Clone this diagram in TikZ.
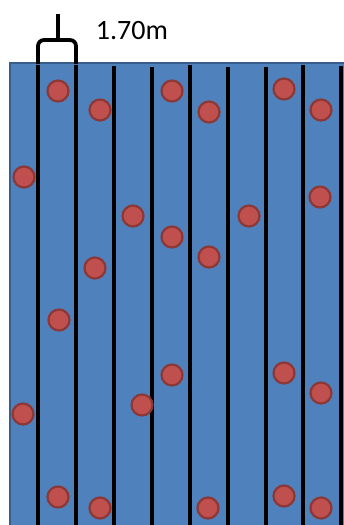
\documentclass[tikz,border=0pt]{standalone}
\usepackage{fontspec}
\setmainfont{Carlito}
\definecolor{pool}{HTML}{4F81BD}
\definecolor{pooledge}{HTML}{385D8A}
\definecolor{dotfill}{HTML}{C0504D}
\definecolor{dotedge}{HTML}{8C3836}
\begin{document}
\begin{tikzpicture}[x=1pt,y=-1pt,
  dot/.style={circle,minimum size=21pt,inner sep=0pt,fill=dotfill,draw=dotedge,line width=2.2pt},
  lane/.style={line width=3.8pt,black},
  brk/.style={line width=3.8pt,black,rounded corners=6pt}]
\useasboundingbox (0,0) rectangle (344,525);
\begin{scope}
\clip (0,0) rectangle (344,525);
\filldraw[fill=pool,draw=pooledge,line width=1.8pt] (10,63) rectangle (360,540);
\foreach \x/\t in {38/65,76/65,114/66,152/67,190/65,228/67,266/67,303/65,341/66}
  \draw[lane] (\x,\t) -- (\x,526);
\foreach \n/\x/\y in {1/58/91,2/100/110,3/172/91,4/209/112,5/284/89,6/321/110,
  7/24/177,8/133/216,9/172/237,10/249/216,11/209/257,12/320/197,
  13/95/268,14/59/320,15/172/375,16/284/373,17/321/393,18/142/405,
  19/23/414,20/58/497,21/100/508,22/208/508,23/284/496,24/321/508}
  \node[dot] (c\n) at (\x,\y) {};
\end{scope}
\draw[brk] (38,64) -- (38,40) -- (76,40) -- (76,64);
\draw[line width=3.8pt] (58,41) -- (58,14);
\node[anchor=base,font=\fontsize{28}{32}\selectfont,inner sep=0pt] (lbl) at (132,39) {1.70m};
\end{tikzpicture}
\end{document}
